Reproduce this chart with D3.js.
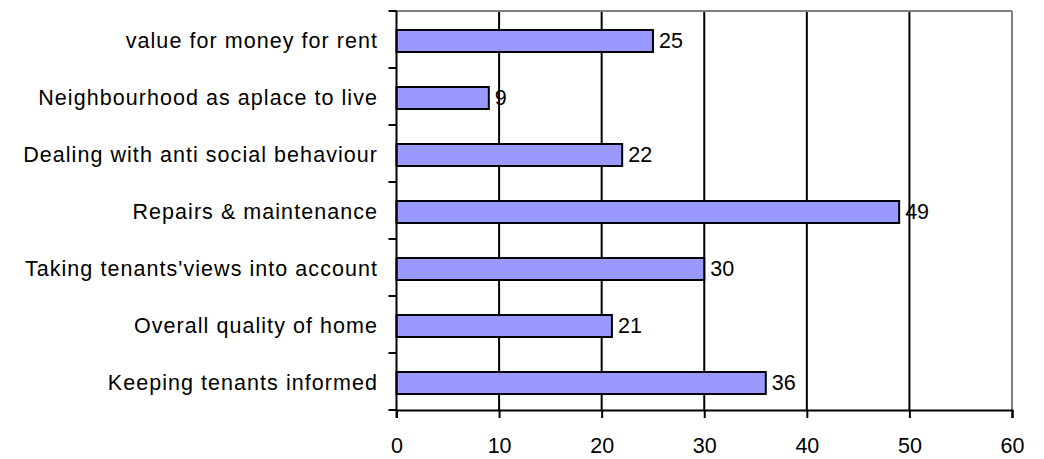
<!DOCTYPE html>
<html><head><meta charset="utf-8">
<script src="https://cdn.jsdelivr.net/npm/d3@7"></script>
<style>body{margin:0;background:#fff}svg{display:block}text{font-family:"Liberation Sans",Arial,sans-serif;fill:#000}</style>
</head><body>
<script>
const categories = ["value for money for rent","Neighbourhood as aplace to live","Dealing with anti social behaviour","Repairs & maintenance","Taking tenants'views into account","Overall quality of home","Keeping tenants informed"];
const values = [25, 9, 22, 49, 30, 21, 36];
const xTicks = [0, 10, 20, 30, 40, 50, 60];

const W = 1044, H = 459;
const m = {left: 396.5, right: 1012, top: 11, bottom: 410};
const svg = d3.select("body").append("svg").attr("width", W).attr("height", H);
const x = d3.scaleLinear().domain([0, 60]).range([m.left, m.right]);
const y = d3.scaleBand().domain(categories).range([m.top, m.bottom]).paddingInner(0).paddingOuter(0);
const fs = 21.5;

// gridlines
svg.selectAll(".grid").data(xTicks.filter(d => d > 0 && d < 60)).enter().append("line")
  .attr("x1", d => x(d)).attr("x2", d => x(d)).attr("y1", m.top).attr("y2", m.bottom)
  .attr("stroke", "#000").attr("stroke-width", 2);
// top and right border
svg.append("line").attr("x1", m.left).attr("x2", m.right).attr("y1", m.top).attr("y2", m.top).attr("stroke", "#808080").attr("stroke-width", 2);
svg.append("line").attr("x1", m.right).attr("x2", m.right).attr("y1", m.top).attr("y2", m.bottom).attr("stroke", "#808080").attr("stroke-width", 2);

// bars
const bh = 22;
svg.selectAll(".bar").data(values).enter().append("rect")
  .attr("x", x(0)).attr("y", (d, i) => y(categories[i]) + y.bandwidth() / 2 + 1.5 - bh / 2)
  .attr("width", d => x(d) - x(0)).attr("height", bh)
  .attr("fill", "#9999FF").attr("stroke", "#000").attr("stroke-width", 2);

// value labels
svg.selectAll(".val").data(values).enter().append("text")
  .attr("x", d => x(d) + 6).attr("y", (d, i) => y(categories[i]) + y.bandwidth() / 2 + 0.5)
  .attr("dy", "0.35em").attr("font-size", fs).text(d => d);

// axes
const xAxis = d3.axisBottom(x).tickValues(xTicks).tickSize(8).tickPadding(20);
const gx = svg.append("g").attr("transform", `translate(0,${m.bottom})`).call(xAxis);
gx.select(".domain").attr("stroke", "#000").attr("stroke-width", 2);
gx.selectAll(".tick line").attr("stroke", "#000").attr("stroke-width", 2);
gx.selectAll(".tick text").attr("font-size", fs).attr("font-family", "Liberation Sans, Arial, sans-serif");

// left axis line + ticks at category boundaries
svg.append("line").attr("x1", m.left).attr("x2", m.left).attr("y1", m.top).attr("y2", m.bottom + 8).attr("stroke", "#000").attr("stroke-width", 2);
const bounds = categories.map(c => y(c)).concat([m.bottom]);
svg.selectAll(".ytick").data(bounds).enter().append("line")
  .attr("x1", m.left - 8).attr("x2", m.left).attr("y1", d => d).attr("y2", d => d)
  .attr("stroke", "#000").attr("stroke-width", 2);

// category labels
svg.selectAll(".cat").data(categories).enter().append("text")
  .attr("x", 378).attr("y", c => y(c) + y.bandwidth() / 2 + 0.5)
  .attr("dy", "0.35em").attr("text-anchor", "end").attr("font-size", fs)
  .attr("letter-spacing", "1.05px").text(c => c);
</script>
</body></html>
